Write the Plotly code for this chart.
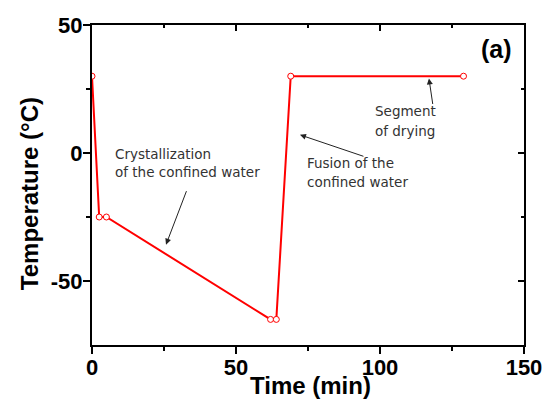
import plotly.graph_objects as go

# Temperature program of the sample
time_min = [0, 2.5, 5, 62, 64, 69, 129]
temperature_c = [30, -25, -25, -65, -65, 30, 30]

x_ticks = [0, 50, 100, 150]
x_tick_text = ["0", "50", "100", "150"]
y_ticks = [-50, 0, 50]
y_tick_text = ["-50", "0", "50"]

fig = go.Figure()
fig.add_trace(go.Scatter(
    x=time_min, y=temperature_c, mode="lines+markers",
    line=dict(color="#ff0000", width=2),
    marker=dict(symbol="circle", size=6, color="white",
                line=dict(color="#ff0000", width=1)),
    showlegend=False,
))

tick_font = dict(family="Liberation Sans, Arial", size=22, color="black", weight="bold")

fig.update_layout(
    width=547, height=400,
    margin=dict(l=92, r=23, t=25, b=55, autoexpand=False),
    plot_bgcolor="white", paper_bgcolor="white",
    xaxis=dict(range=[0, 150], tickvals=x_ticks, ticktext=x_tick_text,
               ticks="outside", ticklen=7, tickwidth=2, tickcolor="black",
               showline=True, linecolor="black", linewidth=2, showgrid=False,
               zeroline=False, tickfont=tick_font, automargin=False,
               ticklabelstandoff=-5,
               minor=dict(tickvals=[25, 75, 125], ticks="outside", ticklen=4,
                          tickwidth=2, tickcolor="black")),
    yaxis=dict(range=[-75, 50], tickvals=y_ticks, ticktext=y_tick_text,
               ticks="outside", ticklen=7, tickwidth=2, tickcolor="black",
               showline=True, linecolor="black", linewidth=2, showgrid=False,
               zeroline=False, tickfont=tick_font, automargin=False,
               ticklabelstandoff=-4,
               minor=dict(tickvals=[-25, 25], ticks="outside", ticklen=4,
                          tickwidth=2, tickcolor="black")),
    # Mirrored frame with inward ticks on the top and right
    xaxis2=dict(range=[0, 150], overlaying="x", side="top", anchor="y",
                tickvals=[50, 100], ticks="inside", ticklen=6,
                tickwidth=2, tickcolor="black", showticklabels=False,
                showline=True, linecolor="black", linewidth=2, automargin=False,
                showgrid=False, zeroline=False,
                minor=dict(tickvals=[25, 75, 125], ticks="inside", ticklen=3,
                           tickwidth=2, tickcolor="black")),
    yaxis2=dict(range=[-75, 50], overlaying="y", side="right", anchor="x",
                tickvals=[-50, 0], ticks="inside", ticklen=6,
                tickwidth=2, tickcolor="black", showticklabels=False,
                showline=True, linecolor="black", linewidth=2, automargin=False,
                showgrid=False, zeroline=False,
                minor=dict(tickvals=[-25, 25], ticks="inside", ticklen=3,
                           tickwidth=2, tickcolor="black")),
)

# Invisible trace so the mirrored axes are drawn
fig.add_trace(go.Scatter(x=[None], y=[None], xaxis="x2", yaxis="y2",
                         showlegend=False, hoverinfo="skip"))

title_font = dict(family="Liberation Sans, Arial", size=24, color="black", weight="bold")
note_font = dict(family="DejaVu Sans", size=13.5, color="#333333")

annotations = [
    dict(text="Time (min)", xref="paper", yref="paper", x=0.505, y=-0.125,
         xanchor="center", yanchor="middle", showarrow=False, font=title_font),
    dict(text="Temperature (°C)", xref="paper", yref="paper", x=-0.143, y=0.472,
         xanchor="center", yanchor="middle", textangle=-90, showarrow=False,
         font=title_font),
    dict(text="(a)", xref="x", yref="y", x=140.3, y=40.5, xanchor="center",
         yanchor="middle", showarrow=False,
         font=dict(family="Liberation Sans, Arial", size=25, color="black",
                   weight="bold")),
    # Text blocks
    dict(text="Crystallization", xref="x", yref="y", x=7.3, y=-0.4,
         xanchor="left", yanchor="middle", showarrow=False, font=note_font),
    dict(text="of the confined water", xref="x", yref="y", x=7.3, y=-7.5,
         xanchor="left", yanchor="middle", showarrow=False, font=note_font),
    dict(text="Fusion of the", xref="x", yref="y", x=74, y=-3.9,
         xanchor="left", yanchor="middle", showarrow=False, font=note_font),
    dict(text="confined water", xref="x", yref="y", x=74, y=-11.4,
         xanchor="left", yanchor="middle", showarrow=False, font=note_font),
    dict(text="Segment", xref="x", yref="y", x=97.6, y=16.5,
         xanchor="left", yanchor="middle", showarrow=False, font=note_font),
    dict(text="of drying", xref="x", yref="y", x=97.6, y=8.7,
         xanchor="left", yanchor="middle", showarrow=False, font=note_font),
]

# Pointer arrows (head at x, y; tail offset in pixels)
arrows = [
    (25.7, -35.8, 21, -55),
    (72.2, 7.1, 65, 22),
    (117.0, 29.1, 4, 27),
]
for hx, hy, ax, ay in arrows:
    annotations.append(dict(
        text="", xref="x", yref="y", x=hx, y=hy, ax=ax, ay=ay,
        showarrow=True, arrowhead=2, arrowsize=1.2, arrowwidth=1,
        arrowcolor="#222222", standoff=0, startstandoff=0))

fig.update_layout(annotations=annotations)

fig.write_html("out.html")
